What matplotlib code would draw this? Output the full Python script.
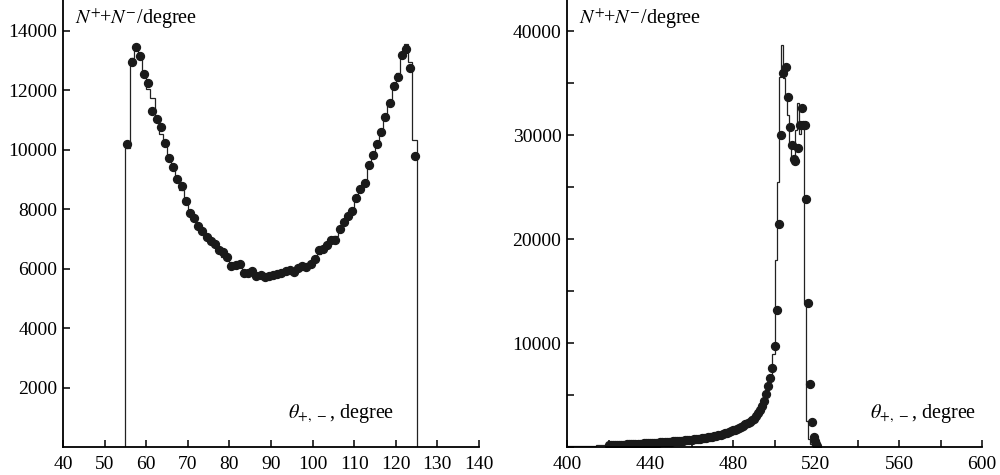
import matplotlib
matplotlib.use("Agg")
import matplotlib.pyplot as plt
from matplotlib.ticker import MultipleLocator

plt.rcParams['font.family'] = ['Liberation Serif', 'DejaVu Serif']
plt.rcParams['mathtext.fontset'] = 'stix'

# left panel: theta_{+,-} distribution (1 degree bins)
left_edges = list(range(55, 126))
left_hist = [10050, 13100, 13350, 13250, 12650, 12050, 11750, 11000, 10550, 10150,
             9650, 9450, 9050, 8650, 8350, 7900, 7650, 7500, 7250, 7100,
             6900, 6800, 6650, 6400, 6450, 6200, 6150, 6050, 5900, 5850,
             5850, 5750, 5700, 5700, 5750, 5700, 5750, 5800, 5850, 5850,
             5900, 6000, 6050, 6100, 6150, 6300, 6500, 6650, 6700, 7050,
             7100, 7300, 7550, 7750, 8000, 8350, 8650, 8900, 9400, 9750,
             10150, 10600, 11050, 11650, 12100, 12600, 13250, 13550, 12950, 10350]
left_dots_x = [v + 0.5 for v in range(55, 125)]
left_dots_y = [10200, 12970, 13450, 13170, 12540, 12240, 11320, 11030, 10760, 10220,
               9720, 9420, 9010, 8800, 8290, 7890, 7720, 7450, 7270, 7080,
               6950, 6830, 6640, 6560, 6390, 6100, 6130, 6170, 5860, 5870,
               5920, 5770, 5800, 5720, 5770, 5790, 5840, 5870, 5920, 5950,
               5910, 6020, 6100, 6060, 6160, 6330, 6640, 6660, 6790, 6970,
               6980, 7340, 7580, 7780, 7950, 8380, 8690, 8880, 9500, 9830,
               10200, 10600, 11120, 11590, 12160, 12440, 13190, 13400, 12750, 9800]

# right panel: opening angle distribution
right_edges = list(range(400, 522))
right_hist = [150, 150, 150, 160, 160, 160, 170, 170, 170, 170,
              180, 180, 180, 180, 190, 190, 190, 190, 200, 200,
              200, 210, 220, 230, 240, 250, 260, 270, 280, 290,
              300, 310, 320, 335, 350, 360, 375, 390, 405, 420,
              430, 440, 450, 465, 475, 490, 500, 515, 530, 545,
              560, 575, 590, 610, 630, 650, 665, 685, 700, 720,
              740, 765, 790, 820, 850, 880, 910, 940, 975, 1010,
              1050, 1090, 1140, 1190, 1240, 1300, 1360, 1420, 1490, 1560,
              1630, 1710, 1800, 1890, 1990, 2100, 2220, 2350, 2480, 2620,
              2760, 3000, 3300, 3600, 4000, 4500, 5100, 5900, 6600, 9000,
              18000, 25500, 35600, 38650, 35500, 33700, 31900, 29200, 27800, 27800,
              30500, 33100, 30100, 31000, 14000, 2500, 800, 300, 100, 50, 20]
right_dots_x = list(range(420, 503)) + [503.1, 504.2, 505.4, 506.4, 507.3, 508.4, 509.6,
                                        510.1, 511.3, 512.3, 513.3, 513.9, 514.7, 515.2,
                                        516.1, 517.1, 518.2, 519.0, 519.5, 520.0, 520.5]
right_dots_y = [200, 210, 220, 230, 240, 250, 260, 270, 280, 290,
                300, 310, 320, 335, 350, 360, 375, 390, 405, 420,
                430, 440, 450, 465, 475, 490, 500, 515, 530, 545,
                560, 575, 590, 610, 630, 650, 665, 685, 700, 720,
                740, 765, 790, 820, 850, 880, 910, 940, 975, 1010,
                1050, 1090, 1140, 1190, 1240, 1300, 1360, 1420, 1490, 1560,
                1630, 1710, 1800, 1890, 1990, 2100, 2220, 2350, 2480, 2620,
                2760, 3000, 3300, 3600, 4000, 4500, 5100, 5900, 6700, 7600,
                9700, 13200, 21500,
                30000, 36000, 36550, 33650, 30750, 29050, 27700,
                27500, 28800, 31000, 32600, 31000, 31000, 23900,
                13900, 6100, 2430, 1000, 600, 350, 150]

ylabel = r'$N^{+}\!$+$N^{-}$/degree'
xlabel = r'$\theta_{+,\,-}$, degree'

fig = plt.figure(figsize=(10, 4.75), dpi=100)
ax1 = fig.add_axes([0.063, 0.058, 0.416, 0.942])
ax2 = fig.add_axes([0.567, 0.058, 0.415, 0.942])

ax1.stairs(left_hist, left_edges, color='#222222', linewidth=0.9)
ax1.plot(left_dots_x, left_dots_y, 'o', color='#1a1a1a', markersize=5.7)
ax1.set_xlim(40, 140)
ax1.set_ylim(0, 15040)
ax1.xaxis.set_major_locator(MultipleLocator(10))
ax1.set_yticks(range(2000, 15000, 2000))

ax2.stairs(right_hist, right_edges, color='#222222', linewidth=0.9)
ax2.plot(right_dots_x, right_dots_y, 'o', color='#1a1a1a', markersize=5.7)
ax2.set_xlim(400, 600)
ax2.set_ylim(0, 42980)
ax2.xaxis.set_major_locator(MultipleLocator(40))
ax2.xaxis.set_minor_locator(MultipleLocator(20))
ax2.set_yticks(range(10000, 42000, 10000))
ax2.yaxis.set_minor_locator(MultipleLocator(5000))

for ax in (ax1, ax2):
    for s in ('top', 'right'):
        ax.spines[s].set_visible(False)
    for s in ('left', 'bottom'):
        ax.spines[s].set_linewidth(1.3)
    ax.tick_params(which='both', direction='in', length=5, width=1.1,
                   labelsize=14)
    ax.tick_params(axis='x', which='both', pad=6)
    ax.tick_params(axis='y', which='both', pad=4)
    ax.text(0.028, 0.985, ylabel, transform=ax.transAxes, fontsize=14.5,
            ha='left', va='top')

ax1.text(0.54, 0.075, xlabel, transform=ax1.transAxes, fontsize=14.5,
         ha='left', va='center')
ax2.text(0.73, 0.075, xlabel, transform=ax2.transAxes, fontsize=14.5,
         ha='left', va='center')

fig.savefig('out.png', dpi=100)
